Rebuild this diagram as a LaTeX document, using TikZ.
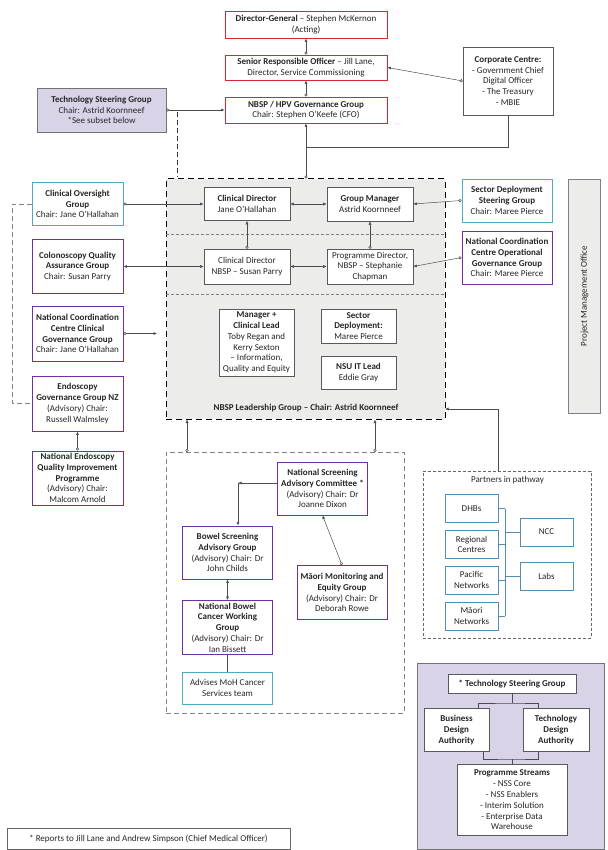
\documentclass[tikz,border=0pt]{standalone}
\usepackage{fontspec}
\setmainfont{Carlito}
\usetikzlibrary{arrows.meta,positioning}

\definecolor{boxred}{RGB}{218,38,44}
\definecolor{boxcyan}{RGB}{75,172,198}
\definecolor{boxpurple}{RGB}{112,48,160}
\definecolor{lavender}{RGB}{217,211,232}
\definecolor{partblue}{RGB}{84,141,180}
\definecolor{shade}{RGB}{236,236,234}

\begin{document}
\begin{tikzpicture}[x=1pt, y=-1pt,
    every node/.style={font=\fontsize{9}{10.8}\selectfont, text=black!85, align=center, inner sep=0.5pt},
    redbox/.style={draw=boxred, line width=0.9pt, fill=white},
    cyanbox/.style={draw=boxcyan, line width=0.9pt, fill=white},
    purplebox/.style={draw=boxpurple, line width=0.9pt, fill=white},
    graybox/.style={draw=black!65, line width=0.6pt, fill=white},
    partbox/.style={draw=partblue, line width=0.6pt, fill=white},
    line/.style={draw=black!70, line width=0.5pt},
    conn/.style={line, {Circle[open,length=3pt,width=3pt]}-{Latex[length=3.5pt,width=3pt]}},
    arr/.style={line, -{Latex[length=3.5pt,width=3pt]}},
    dbl/.style={line, {Latex[length=3.5pt,width=3pt]}-{Latex[length=3.5pt,width=3pt]}},
    greydash/.style={draw=black!50, line width=0.8pt, dash pattern=on 5pt off 3pt}]
    \useasboundingbox (0,0) rectangle (607,850);

    % top of the chart
    \node[redbox, minimum width=162pt, minimum height=27pt] (dg) at (306,24.5) {\textbf{Director-General} -- Stephen McKernon\\(Acting)};
    \node[redbox, minimum width=162pt, minimum height=25pt, below of=dg, node distance=43pt] (sro) {\textbf{Senior Responsible Officer} -- Jill Lane,\\Director, Service Commissioning};
    \node[redbox, minimum width=162pt, minimum height=26pt, below of=sro, node distance=42.5pt] (gov) {\textbf{NBSP / HPV Governance Group}\\Chair: Stephen O’Keefe (CFO)};
    \node[draw=black!55, fill=lavender, line width=0.6pt, minimum width=129pt, minimum height=44pt] (techsg) at (101.5,110) {\textbf{Technology Steering Group}\\Chair: Astrid Koornneef\\*See subset below};
    \node[graybox, minimum width=90pt, minimum height=68pt] (corp) at (508,81) {\textbf{Corporate Centre:}\\- Government Chief\\Digital Officer\\- The Treasury\\- MBIE};

    % leadership group
    \node[draw=black, fill=shade, line width=1pt, dash pattern=on 6pt off 4pt, minimum width=279pt, minimum height=240pt] (lead) at (305.5,299) {};
    \draw[greydash, dash pattern=on 3pt off 2pt] ([yshift=-56pt]lead.north west) -- ([yshift=-56pt]lead.north east);
    \draw[greydash, dash pattern=on 3pt off 2pt] ([yshift=-116pt]lead.north west) -- ([yshift=-116pt]lead.north east);
    \node[graybox, minimum width=86pt, minimum height=33pt] (cdjane) at (247,204) {\textbf{Clinical Director}\\Jane O’Hallahan};
    \node[graybox, minimum width=86pt, minimum height=34pt, right of=cdjane, node distance=123pt] (grpmgr) {\textbf{Group Manager}\\Astrid Koornneef};
    \node[graybox, minimum width=86pt, minimum height=35pt, below of=cdjane, node distance=62.5pt] (cdsusan) {Clinical Director\\NBSP -- Susan Parry};
    \node[graybox, minimum width=86pt, minimum height=35pt, below of=grpmgr, node distance=62.5pt] (progdir) {Programme Director,\\NBSP -- Stephanie\\Chapman};
    \node[graybox, minimum width=75pt, minimum height=67pt] (mgrlead) at (256.5,342.5) {\textbf{Manager +}\\\textbf{Clinical Lead}\\Toby Regan and\\Kerry Sexton\\-- Information,\\Quality and Equity};
    \node[graybox, minimum width=75pt, minimum height=34pt] (sector) at (358.5,326) {\textbf{Sector}\\\textbf{Deployment:}\\Maree Pierce};
    \node[graybox, minimum width=75pt, minimum height=33pt, below of=sector, node distance=46.5pt] (itlead) {\textbf{NSU IT Lead}\\Eddie Gray};
    \node (leadlabel) at (306,408) {\textbf{NBSP Leadership Group -- Chair: Astrid Koornneef}};

    % left column
    \node[cyanbox, minimum width=91pt, minimum height=43pt] (oversight) at (77.5,204) {\textbf{Clinical Oversight}\\\textbf{Group}\\Chair: Jane O’Hallahan};
    \node[purplebox, minimum width=91pt, minimum height=54pt, below of=oversight, node distance=62.5pt] (colqa) {\textbf{Colonoscopy Quality}\\\textbf{Assurance Group}\\Chair: Susan Parry};
    \node[purplebox, minimum width=91pt, minimum height=55pt, below of=colqa, node distance=67pt] (nccclin) {\textbf{National Coordination}\\\textbf{Centre Clinical}\\\textbf{Governance Group}\\Chair: Jane O’Hallahan};
    \node[purplebox, minimum width=91pt, minimum height=55pt, below of=nccclin, node distance=70pt] (endogov) {\textbf{Endoscopy}\\\textbf{Governance Group NZ}\\(Advisory) Chair:\\Russell Walmsley};
    \node[purplebox, minimum width=91pt, minimum height=54pt, below of=endogov, node distance=74.5pt] (endoqip) {\textbf{National Endoscopy}\\\textbf{Quality Improvement}\\\textbf{Programme}\\(Advisory) Chair:\\Malcom Arnold};

    % right column
    \node[cyanbox, minimum width=90pt, minimum height=43pt] (sectorsg) at (507,200.5) {\textbf{Sector Deployment}\\\textbf{Steering Group}\\Chair: Maree Pierce};
    \node[purplebox, minimum width=90pt, minimum height=53pt, below of=sectorsg, node distance=57pt] (nccops) {\textbf{National Coordination}\\\textbf{Centre Operational}\\\textbf{Governance Group}\\Chair: Maree Pierce};
    \node[draw=black!50, fill=shade, line width=0.6pt, rotate=90, minimum width=234pt, minimum height=32pt] (pmo) at (584.5,296) {Project Management Office};

    % advisory groups
    \node[greydash, minimum width=238pt, minimum height=261pt] (advisory) at (285,582.5) {};
    \node[purplebox, minimum width=90pt, minimum height=53pt] (nsac) at (322.5,488.5) {\textbf{National Screening}\\\textbf{Advisory Committee *}\\(Advisory) Chair: Dr\\Joanne Dixon};
    \node[purplebox, minimum width=90pt, minimum height=53pt] (bowelsag) at (227.5,552.5) {\textbf{Bowel Screening}\\\textbf{Advisory Group}\\(Advisory) Chair: Dr\\John Childs};
    \node[purplebox, minimum width=90pt, minimum height=54pt, below of=bowelsag, node distance=75pt] (bowelwg) {\textbf{National Bowel}\\\textbf{Cancer Working}\\\textbf{Group}\\(Advisory) Chair: Dr\\Ian Bissett};
    \node[cyanbox, minimum width=90pt, minimum height=32pt, below of=bowelwg, node distance=60.5pt] (mohteam) {Advises MoH Cancer\\Services team};
    \node[purplebox, minimum width=90pt, minimum height=54pt] (maori) at (342,592.5) {\textbf{Māori Monitoring and}\\\textbf{Equity Group}\\(Advisory) Chair: Dr\\Deborah Rowe};
    \coordinate (advleft) at (187,452);
    \coordinate (advright) at (375,452);
    \coordinate (nsacbend) at (238,483);

    % partners in pathway
    \node[draw=black!60, line width=0.6pt, dash pattern=on 3pt off 2pt, minimum width=168pt, minimum height=167pt] (partners) at (507,554.5) {};
    \node (partlabel) at (507.5,480) {Partners in pathway};
    \node[partbox, minimum width=53pt, minimum height=28pt] (dhbs) at (471.5,508.5) {DHBs};
    \node[partbox, minimum width=53pt, minimum height=28pt, below of=dhbs, node distance=36pt] (regional) {Regional\\Centres};
    \node[partbox, minimum width=53pt, minimum height=28pt, below of=regional, node distance=35.5pt] (pacific) {Pacific\\Networks};
    \node[partbox, minimum width=53pt, minimum height=28pt, below of=pacific, node distance=36pt] (maorinet) {Māori\\Networks};
    \node[partbox, minimum width=53pt, minimum height=28pt] (ncc) at (546.5,532) {NCC};
    \node[partbox, minimum width=53pt, minimum height=28pt, below of=ncc, node distance=44.5pt] (labs) {Labs};
    \coordinate (bracket) at (505,0);
    \coordinate (parttop) at (498,471);
    \coordinate (leadin) at (445,409);

    % technology steering subset
    \node[draw=black!55, fill=lavender, line width=0.6pt, minimum width=187pt, minimum height=186pt] (techbox) at (510.5,756) {};
    \node[graybox, minimum width=128pt, minimum height=19pt] (techsub) at (512,684) {\textbf{* Technology Steering Group}};
    \node[graybox, minimum width=65pt, minimum height=43pt] (busda) at (456.5,730) {\textbf{Business}\\\textbf{Design}\\\textbf{Authority}};
    \node[graybox, minimum width=66pt, minimum height=43pt, right of=busda, node distance=99.5pt] (techda) {\textbf{Technology}\\\textbf{Design}\\\textbf{Authority}};
    \node[graybox, minimum width=110pt, minimum height=71pt] (streams) at (512,800) {\textbf{Programme Streams}\\- NSS Core\\- NSS Enablers\\- Interim Solution\\- Enterprise Data\\Warehouse};
    \coordinate (techsplit) at (512,703);
    \coordinate (techjoin) at (512,759);

    \node[draw=black!60, line width=0.6pt, fill=white, minimum width=283pt, minimum height=21pt] (footnote) at (148.5,838.5) {* Reports to Jill Lane and Andrew Simpson (Chief Medical Officer)};

    % connectors
    \draw[conn] (sro) -- (dg);
    \draw[conn] (gov) -- (sro);
    \draw[conn] (techsg) -- (gov);
    \draw[conn] (corp.west) -- (sro.east);
    \draw[line] (corp.south) |- (gov.south |- 0,147);
    \draw[conn] (gov.south |- lead.north) -- (gov.south);
    \draw[draw=black!80, line width=0.7pt, dash pattern=on 5pt off 3pt] (177,112) -- (177,177);

    \draw[dbl] (cdjane) -- (grpmgr);
    \draw[dbl] (cdsusan) -- (progdir);
    \draw[conn] (cdsusan) -- (cdjane);
    \draw[conn] (progdir) -- (grpmgr);

    \draw[conn] (oversight.east) -- (cdjane.west);
    \draw[dbl] (colqa.east) -- (cdsusan.west);
    \draw[conn] (nccclin.east) -- (157,333.5);
    \draw[conn] (endoqip) -- (endogov);
    \draw[greydash] (oversight.west) -- (12,204) |- (endogov.west);

    \draw[conn] (sectorsg.west) -- (grpmgr.east);
    \draw[conn] (nccops.west) -- (progdir.east);

    \draw[conn] (advleft) -- (advleft |- lead.south);
    \draw[conn] (advright) -- (advright |- lead.south);
    \draw[arr] (nsac.west |- nsacbend) -- (nsacbend);
    \draw[arr] (nsacbend) -- (nsacbend |- bowelsag.north);
    \draw[conn] (maori.north) -- (nsac.south);
    \draw[dbl] (bowelsag) -- (bowelwg);
    \draw[line] (bowelwg) -- (mohteam);

    \draw[arr] (parttop) |- (leadin);
    \foreach \p in {dhbs, regional, pacific, maorinet}
        \draw[draw=partblue, line width=0.6pt] (\p.east) -- (\p.east -| bracket);
    \draw[draw=partblue, line width=0.6pt] (dhbs.east -| bracket) -- (maorinet.east -| bracket);
    \draw[draw=partblue, line width=0.6pt] (ncc.west -| bracket) -- (ncc.west);
    \draw[draw=partblue, line width=0.6pt] (labs.west -| bracket) -- (labs.west);

    \draw[line] (techsub) -- (techsplit);
    \draw[line] ([xshift=-11pt]busda.north east) |- (techsplit) -| ([xshift=16pt]techda.north west);
    \draw[line] ([xshift=-6.5pt]busda.south east) |- (techjoin) -| ([xshift=16pt]techda.south west);
    \draw[line] (streams) -- (techjoin);
\end{tikzpicture}
\end{document}
